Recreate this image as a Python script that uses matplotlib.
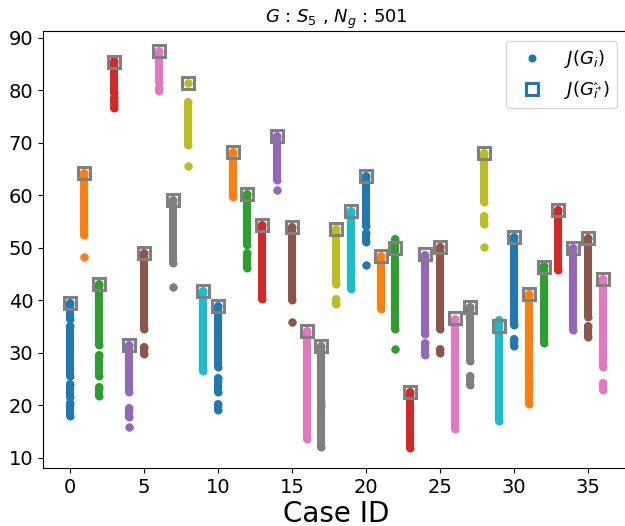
import matplotlib
matplotlib.use("Agg")
import matplotlib.pyplot as plt
from matplotlib.lines import Line2D

# ---- data ----
case_ids = list(range(37))

# J(G_i*) : value marked with the grey square for each case
best_vals = [39.5, 64.3, 43.0, 85.4, 31.5, 49.05, 87.5, 59.0, 81.3, 41.8,
             38.8, 68.3, 60.2, 54.3, 71.3, 54.0, 34.1, 31.3, 53.6, 57.0,
             63.7, 48.5, 50.0, 22.45, 48.75, 50.2, 36.7, 38.65, 68.0, 35.0,
             52.1, 41.2, 46.4, 57.2, 50.0, 51.9, 44.05]

# J(G_i) : ranges covered by the sampled values of each case (lo, hi)
ranges = [
    [(36.5, 39.5), (25.5, 35.0), (21.5, 24.0), (18.0, 20.5)],   # 0
    [(52.5, 64.3), (48.3, 48.3)],                                # 1
    [(31.5, 43.0), (25.5, 29.5), (21.8, 23.5)],                  # 2
    [(79.5, 85.5), (77.8, 78.6), (76.6, 77.2)],                  # 3
    [(22.5, 31.5), (17.8, 19.5), (15.9, 15.9)],                  # 4
    [(34.5, 49.0), (29.8, 31.0)],                                # 5
    [(81.5, 87.5), (79.8, 80.5)],                                # 6
    [(47.0, 59.0), (42.6, 42.6)],                                # 7
    [(81.3, 81.3), (69.5, 77.8), (65.5, 65.5)],                  # 8
    [(26.5, 41.8)],                                              # 9
    [(27.2, 38.8), (22.5, 25.2), (19.0, 20.2)],                  # 10
    [(59.6, 68.3)],                                              # 11
    [(50.5, 60.2), (46.2, 49.0)],                                # 12
    [(40.3, 54.3)],                                              # 13
    [(62.8, 71.3), (61.0, 61.0)],                                # 14
    [(40.0, 54.0), (35.9, 35.9)],                                # 15
    [(13.6, 34.1)],                                              # 16
    [(20.5, 31.3), (12.0, 19.8)],                                # 17
    [(43.1, 53.6), (39.3, 40.2)],                                # 18
    [(46.0, 57.0), (42.2, 45.3)],                                # 19
    [(54.2, 63.7), (51.0, 52.8), (46.7, 46.7)],                  # 20
    [(38.4, 48.5)],                                              # 21
    [(34.6, 51.6), (30.8, 30.8)],                                # 22
    [(11.8, 22.45)],                                             # 23
    [(33.6, 48.7), (29.6, 31.8)],                                # 24
    [(34.6, 50.2), (30.0, 30.8)],                                # 25
    [(15.5, 36.5)],                                              # 26
    [(28.5, 38.7), (23.8, 25.5)],                                # 27
    [(58.7, 68.0), (54.5, 56.0), (50.2, 50.2)],                  # 28
    [(16.9, 36.3)],                                              # 29
    [(35.3, 52.1), (31.2, 32.6)],                                # 30
    [(24.5, 41.2), (20.3, 23.6)],                                # 31
    [(31.8, 46.6)],                                              # 32
    [(45.7, 57.2)],                                              # 33
    [(34.3, 50.0)],                                              # 34
    [(36.8, 51.9), (33.0, 35.0)],                                # 35
    [(27.3, 44.0), (22.9, 24.3)],                                # 36
]

title_text = r'$G$ : $S_5$ , $N_g$ : $501$'
xlabel_text = 'Case ID'
legend_labels = [r'$J(G_i)$', r'$J(G_{\hat{i}^{*}})$']

# ---- plot ----
W, H = 625, 526
fig = plt.figure(figsize=(W / 100, H / 100), dpi=100)
ax = fig.add_axes([43 / W, 58 / H, 586.5 / W, 437.3 / H])

tab10 = plt.get_cmap('tab10').colors
dot = 5.8  # points

for cid, segs in zip(case_ids, ranges):
    col = tab10[cid % 10]
    for lo, hi in segs:
        ax.plot([cid, cid], [lo, hi], color=col, lw=dot,
                solid_capstyle='round', marker='o', markersize=dot,
                markeredgewidth=0, zorder=2)

ax.plot(case_ids, best_vals, linestyle='none', marker='s', markersize=8.4,
        markerfacecolor='none', markeredgecolor='#808080',
        markeredgewidth=2.2, zorder=3)

ax.set_xlim(-1.8, 37.8)
ax.set_ylim(8.04, 91.33)
ax.set_xticks(range(0, 36, 5))
ax.set_yticks(range(10, 91, 10))
ax.tick_params(labelsize=14)
ax.set_xlabel(xlabel_text, fontsize=20, labelpad=2)
ax.set_title(title_text, fontsize=13, pad=5)

handles = [
    Line2D([], [], linestyle='none', marker='o', color=tab10[0],
           markersize=dot, markeredgewidth=0),
    Line2D([], [], linestyle='none', marker='s', markersize=8.4,
           markerfacecolor='none', markeredgecolor=tab10[0],
           markeredgewidth=2.2),
]
ax.legend(handles, legend_labels, loc='upper right', fontsize=13,
          bbox_to_anchor=(617 / W, 1 - 41 / H),
          bbox_transform=fig.transFigure, borderaxespad=0)

fig.savefig('out.png', dpi=100)
